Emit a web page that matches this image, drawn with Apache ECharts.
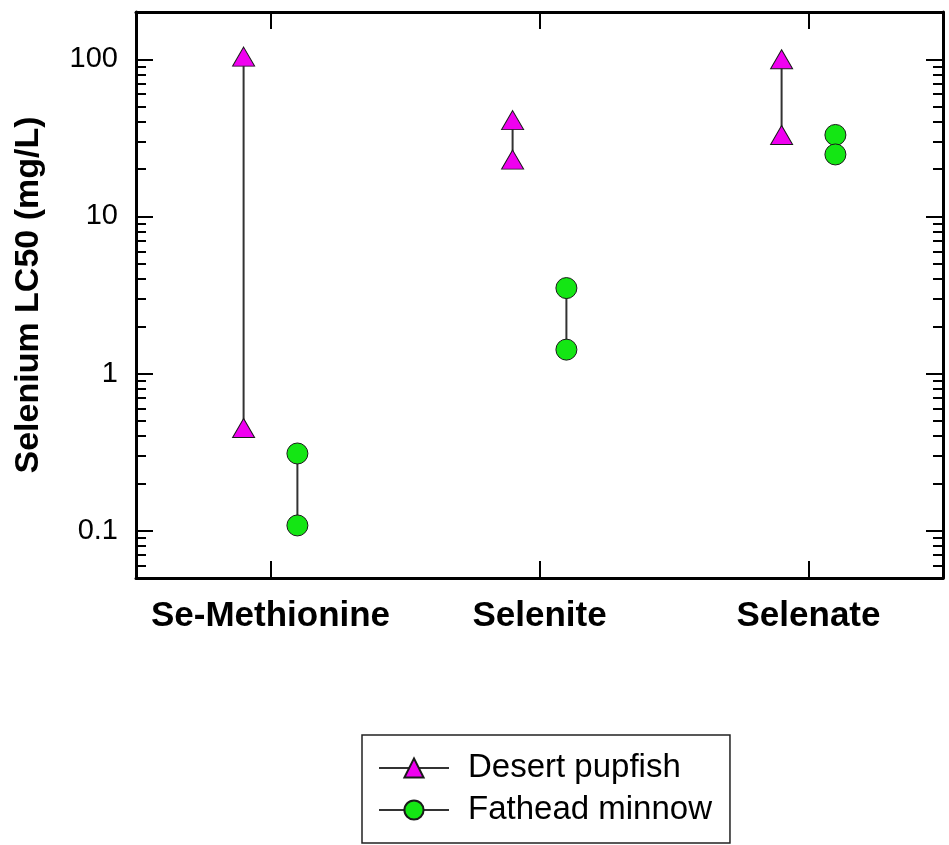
<!DOCTYPE html>
<html>
<head>
<meta charset="utf-8">
<script src="https://cdn.jsdelivr.net/npm/echarts@6/dist/echarts.min.js"></script>
<style>
html,body{margin:0;padding:0;background:#fff;}
#chart{width:949px;height:845px;}
</style>
</head>
<body>
<div id="chart"></div>
<script>
// ---- data ----
var categories = ['Se-Methionine', 'Selenite', 'Selenate'];
var seriesNames = ['Desert pupfish', 'Fathead minnow'];
var pupfishHigh = [104, 41, 100];
var pupfishLow = [0.45, 23, 33];
var minnowHigh = [0.31, 3.5, 33];
var minnowLow = [0.108, 1.42, 24.8];
var majorTicks = [0.1, 1, 10, 100];
var minorTicks = [0.06, 0.07, 0.08, 0.09, 0.2, 0.3, 0.4, 0.5, 0.6, 0.7, 0.8, 0.9,
                  2, 3, 4, 5, 6, 7, 8, 9, 20, 30, 40, 50, 60, 70, 80, 90];
var yMin = 0.05, yMax = 200;

// ---- styles ----
var FONT = 'Liberation Sans, Arial, sans-serif';
var frameLine = {show: true, onZero: false, lineStyle: {color: '#000', width: 3}};
var noLine = {show: false, onZero: false};
var species = [
  {name: seriesNames[0], high: pupfishHigh, low: pupfishLow, shift: -0.1,
   symbol: 'triangle', size: [22, 19], color: '#f000f0'},
  {name: seriesNames[1], high: minnowHigh, low: minnowLow, shift: 0.1,
   symbol: 'circle', size: 21, color: '#14e614'}
];

var series = [];
species.forEach(function (sp) {
  categories.forEach(function (c, i) {
    series.push({
      type: 'line',
      name: sp.name,
      xAxisIndex: 0,
      yAxisIndex: 0,
      symbol: sp.symbol,
      symbolSize: sp.size,
      itemStyle: {color: sp.color, borderColor: '#1a1a1a', borderWidth: 1},
      lineStyle: {color: '#333', width: 2},
      data: [[i + sp.shift, sp.high[i]], [i + sp.shift, sp.low[i]]],
      z: 3
    });
  });
});

function yLabel(v) {
  return v >= 1 ? String(Math.round(v)) : v.toFixed(1);
}

function yAxisDef(pos, ticks, len, showLabel, showLine) {
  return {
    type: 'log', logBase: 10, min: yMin, max: yMax, position: pos,
    axisLine: showLine ? frameLine : noLine,
    axisTick: {show: true, inside: true, length: len, customValues: ticks,
               lineStyle: {color: '#000', width: 2}},
    axisLabel: showLabel ? {show: true, customValues: majorTicks, formatter: yLabel,
               margin: 18, color: '#000', fontFamily: FONT, fontSize: 29} : {show: false},
    splitLine: {show: false}, minorTick: {show: false}
  };
}

var yAxes = [
  yAxisDef('left', majorTicks, 17, true, true),
  yAxisDef('left', minorTicks, 10, false, false),
  yAxisDef('right', majorTicks, 17, false, true),
  yAxisDef('right', minorTicks, 10, false, false)
];
yAxes[0].name = 'Selenium LC50 (mg/L)';
yAxes[0].nameLocation = 'middle';
yAxes[0].nameGap = 90;
yAxes[0].nameTextStyle = {color: '#000', fontFamily: FONT, fontSize: 34, fontWeight: 'bold'};

var catIdx = categories.map(function (c, i) { return i; });
function xAxisDef(pos, showLabel) {
  return {
    type: 'value', min: -0.5, max: 2.5, position: pos,
    axisLine: frameLine,
    axisTick: {show: true, inside: true, length: 17, customValues: catIdx,
               lineStyle: {color: '#000', width: 2}},
    axisLabel: showLabel ? {show: true, customValues: catIdx, margin: 21,
               formatter: function (v) { return categories[Math.round(v)]; },
               color: '#000', fontFamily: FONT, fontSize: 35, fontWeight: 'bold'} : {show: false},
    splitLine: {show: false}
  };
}

var option = {
  animation: false,
  backgroundColor: '#fff',
  grid: {left: 136, top: 12, right: 6, bottom: 267, containLabel: false},
  xAxis: [xAxisDef('bottom', true), xAxisDef('top', false)],
  yAxis: yAxes,
  legend: {
    data: seriesNames,
    orient: 'vertical',
    left: 362, top: 735,
    padding: [14, 18, 14, 16],
    itemGap: 4,
    itemWidth: 70, itemHeight: 24,
    borderColor: '#222', borderWidth: 1.5,
    textStyle: {color: '#000', fontFamily: FONT, fontSize: 33, lineHeight: 38,
                padding: [0, 0, 0, 14]}
  },
  series: series
};

var chart = echarts.init(document.getElementById('chart'), null, {renderer: 'canvas'});
chart.setOption(option);
</script>
</body>
</html>
